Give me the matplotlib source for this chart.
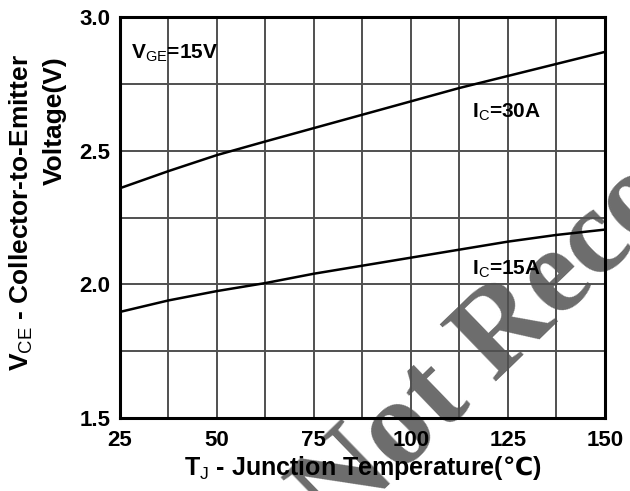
import numpy as np
import matplotlib
matplotlib.use('Agg')
import matplotlib.pyplot as plt

plt.rcParams['font.family'] = ['Liberation Sans', 'DejaVu Sans']
plt.rcParams['mathtext.fontset'] = 'custom'
plt.rcParams['mathtext.rm'] = 'Liberation Sans'
plt.rcParams['mathtext.bf'] = 'Liberation Sans:bold'
plt.rcParams['mathtext.sf'] = 'DejaVu Sans:bold'

# Data
temp = [25, 37.5, 50, 62.5, 75, 87.5, 100, 112.5, 125, 137.5, 150]
vce_30a = [2.36, 2.424, 2.484, 2.535, 2.585, 2.635, 2.685, 2.735, 2.78, 2.825, 2.87]
vce_15a = [1.897, 1.94, 1.975, 2.005, 2.04, 2.07, 2.10, 2.13, 2.16, 2.185, 2.205]

x_ticks = [25, 50, 75, 100, 125, 150]
y_ticks = [1.5, 2.0, 2.5, 3.0]
y_labels = ['1.5', '2.0', '2.5', '3.0']

fig = plt.figure(figsize=(6.3, 4.91), dpi=100)
ax = fig.add_axes([0.1905, 0.1487, 0.7695, 0.8163])
ax.patch.set_alpha(0)

# watermark behind everything
fig.text(0.532, -0.092, 'Not Recommended', family='Liberation Serif', fontweight='bold',
         fontsize=88, color='#6c6c6c', rotation=44, rotation_mode='anchor',
         ha='left', va='baseline', zorder=-1)

ax.plot(temp, vce_30a, color='black', lw=1.8, zorder=3)
ax.plot(temp, vce_15a, color='black', lw=1.8, zorder=3)

ax.set_xlim(25, 150)
ax.set_ylim(1.5, 3.0)
ax.set_xticks(x_ticks)
ax.set_yticks(y_ticks, y_labels)
ax.set_xticks(np.arange(25, 151, 12.5), minor=True)
ax.set_yticks(np.arange(1.5, 3.01, 0.25), minor=True)
ax.grid(which='both', color='#505050', lw=1.4)
ax.tick_params(which='both', length=0)
ax.tick_params(axis='x', pad=9)
ax.tick_params(axis='y', pad=7)
for lab in ax.get_xticklabels() + ax.get_yticklabels():
    lab.set_fontweight('bold')
    lab.set_fontsize(16)
for sp in ax.spines.values():
    sp.set_linewidth(2.2)

ax.set_xlabel(r'T$_{\mathrm{J}}$ - Junction Temperature($\mathsf{℃}$)', fontsize=18,
              fontweight='bold', labelpad=2)

# two-line y label, lines placed separately as in the reference
fig.text(21 / 630, 1 - 213 / 491, r'V$_{\mathrm{CE}}$ - Collector-to-Emitter',
         fontsize=19, fontweight='bold', rotation=90, ha='center', va='center')
fig.text(55 / 630, 1 - 121 / 491, 'Voltage(V)',
         fontsize=19, fontweight='bold', rotation=90, ha='center', va='center')

ax.text(0.022, 0.91, r'V$_{\mathrm{GE}}$=15V', transform=ax.transAxes, fontsize=15,
        fontweight='bold', va='center')
ax.text(0.727, 0.764, r'I$_{\mathrm{C}}$=30A', transform=ax.transAxes, fontsize=15,
        fontweight='bold', va='center')
ax.text(0.727, 0.372, r'I$_{\mathrm{C}}$=15A', transform=ax.transAxes, fontsize=15,
        fontweight='bold', va='center')

fig.savefig('out.png', dpi=100)
